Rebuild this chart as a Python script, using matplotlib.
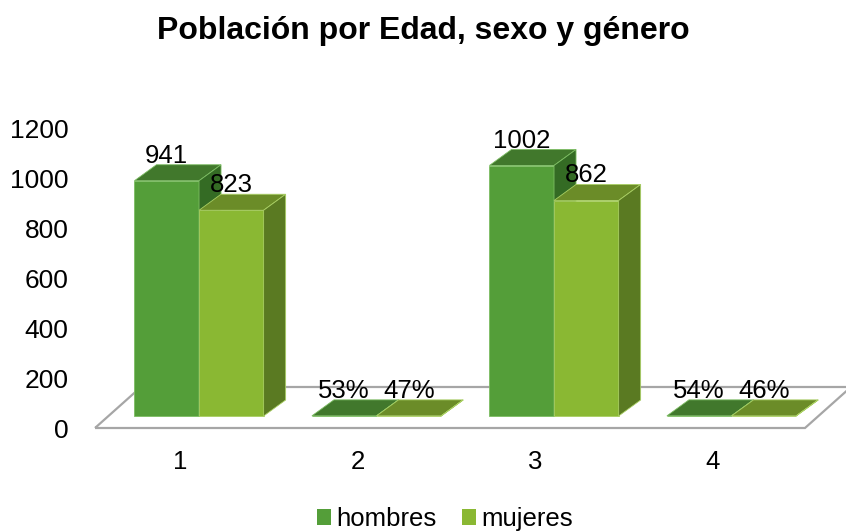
import matplotlib.pyplot as plt
from matplotlib.patches import Polygon, Patch

plt.rcParams['font.family'] = ['Liberation Sans', 'DejaVu Sans']

categories = ['1', '2', '3', '4']
hombres = [941, 0.53, 1002, 0.54]
mujeres = [823, 0.47, 862, 0.46]
series_names = ['hombres', 'mujeres']
yticks = [0, 200, 400, 600, 800, 1000, 1200]

# colours: front, top, side
colors = {
    'hombres': ('#549e39', '#41782c', '#346b24'),
    'mujeres': ('#8ab833', '#6b8c28', '#5a7a22'),
}
edge = {'hombres': '#7cbd62', 'mujeres': '#a9cf63'}

# pseudo 3D geometry (data units)
base = 48          # bars sit a bit behind the front edge of the floor
bar_w = 0.364
shift = 0.086
ddx, ddy = 0.124, 64     # bar depth
fdx, fdy = 0.259, 164    # floor depth


def label(v):
    return f'{v:.0%}' if v < 1 else f'{v:.0f}'


def draw_bar(ax, x0, v, name):
    front, top_c, side_c = colors[name]
    t = base + v
    kw = dict(closed=True, clip_on=False, lw=0.6, edgecolor=edge[name])
    ax.add_patch(Polygon([(x0, base), (x0 + bar_w, base), (x0 + bar_w, t), (x0, t)],
                         facecolor=front, zorder=3, **kw))
    ax.add_patch(Polygon([(x0, t), (x0 + bar_w, t), (x0 + bar_w + ddx, t + ddy), (x0 + ddx, t + ddy)],
                         facecolor=top_c, zorder=3, **kw))
    ax.add_patch(Polygon([(x0 + bar_w, base), (x0 + bar_w + ddx, base + ddy),
                          (x0 + bar_w + ddx, t + ddy), (x0 + bar_w, t)],
                         facecolor=side_c, zorder=3, **kw))
    ax.text(x0 + bar_w / 2, t + 100, label(v), ha='center', va='center',
            fontsize=18.5, zorder=5)


fig = plt.figure(figsize=(8.46, 5.32), dpi=100)
ax = fig.add_axes([95 / 846, 104 / 532, 710 / 846, 300 / 532])
ax.set_xlim(0.5, 4.5)
ax.set_ylim(0, 1200)

# floor
ax.add_patch(Polygon([(0.5, 0), (4.5, 0), (4.5 + fdx, fdy), (0.5 + fdx, fdy)],
                     closed=True, facecolor='none', edgecolor='#a6a6a6', lw=1.6,
                     clip_on=False, zorder=1))

for i in range(len(categories)):
    c = i + 1
    draw_bar(ax, c + shift - bar_w, hombres[i], 'hombres')
    draw_bar(ax, c + shift, mujeres[i], 'mujeres')

for s in ax.spines.values():
    s.set_visible(False)
ax.set_yticks(yticks)
ax.set_yticklabels([str(t) for t in yticks], fontsize=19)
ax.set_xticks([c - 0.02 for c in range(1, len(categories) + 1)])
ax.set_xticklabels(categories, fontsize=18.5)
ax.tick_params(axis='y', length=0, pad=19)
ax.tick_params(axis='x', length=0, pad=16)

fig.suptitle('Población por Edad, sexo y género', fontsize=23, fontweight='bold',
             y=1 - 31 / 532, va='center')

handles = [Patch(facecolor=colors[n][0], edgecolor='none') for n in series_names]
fig.legend(handles, series_names, loc='center', bbox_to_anchor=(445 / 846, 1 - 519 / 532),
           ncol=2, frameon=False, fontsize=18.5, handlelength=0.55, handleheight=0.55,
           handletextpad=0.2, columnspacing=1.0, borderaxespad=0)

fig.savefig('out.png', dpi=100)
